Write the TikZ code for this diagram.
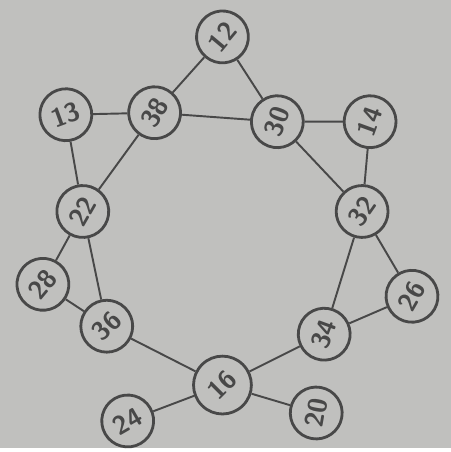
\documentclass[tikz,border=0pt]{standalone}
\usepackage{tikz}
\usepackage{xcolor}
\definecolor{paper}{RGB}{192,192,190}
\definecolor{pencil}{RGB}{72,72,72}

\begin{document}
\begin{tikzpicture}[
    vertex/.style={circle, draw=pencil, line width=1.6pt, fill=paper, minimum size=1.04cm, inner sep=0pt, text=pencil, font=\fontsize{15}{15}\selectfont\sffamily\bfseries},
    edge/.style={draw=pencil, line width=1.1pt}
]
\fill[paper] (0,0) rectangle (9.04,8.98);

\node[vertex, rotate=50] (n12) at (4.46,8.24) {12};
\node[vertex, rotate=60] (n38) at (3.10,6.72) {38};
\node[vertex, rotate=70] (n30) at (5.56,6.54) {30};
\node[vertex, rotate=20] (n13) at (1.32,6.68) {13};
\node[vertex, rotate=70] (n14) at (7.42,6.54) {14};
\node[vertex, rotate=60] (n22) at (1.66,4.74) {22};
\node[vertex, rotate=55] (n32) at (7.26,4.74) {32};
\node[vertex, rotate=50] (n28) at (0.86,3.28) {28};
\node[vertex, rotate=60] (n26) at (8.26,3.04) {26};
\node[vertex, rotate=45] (n36) at (2.14,2.44) {36};
\node[vertex, rotate=70] (n34) at (6.50,2.28) {34};
\node[vertex, rotate=45, minimum size=1.16cm] (n16) at (4.46,1.26) {16};
\node[vertex, rotate=30] (n24) at (2.56,0.54) {24};
\node[vertex, rotate=80] (n20) at (6.34,0.70) {20};

% top triangle
\draw[edge] (n12) -- (n38);
\draw[edge] (n12) -- (n30);
\draw[edge] (n38) -- (n30);
% left side
\draw[edge] (n13) -- (n38);
\draw[edge] (n13) -- (n22);
\draw[edge] (n38) -- (n22);
\draw[edge] (n22) -- (n28);
\draw[edge] (n22) -- (n36);
\draw[edge] (n28) -- (n36);
% right side
\draw[edge] (n30) -- (n14);
\draw[edge] (n30) -- (n32);
\draw[edge] (n14) -- (n32);
\draw[edge] (n32) -- (n34);
\draw[edge] (n32) -- (n26);
\draw[edge] (n26) -- (n34);
% bottom
\draw[edge] (n36) -- (n16);
\draw[edge] (n34) -- (n16);
\draw[edge] (n16) -- (n24);
\draw[edge] (n16) -- (n20);
\end{tikzpicture}
\end{document}
